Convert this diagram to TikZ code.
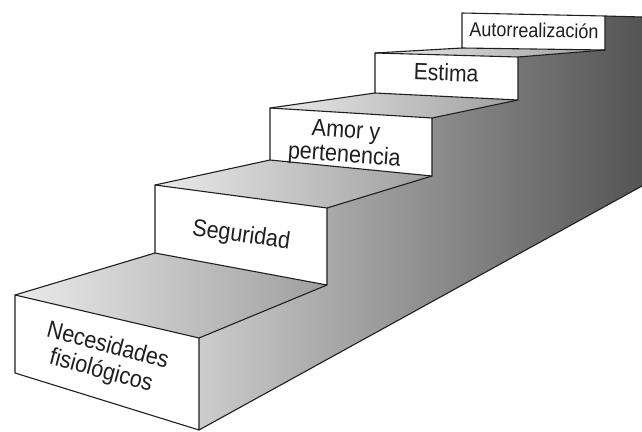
\documentclass[tikz,border=0pt]{standalone}
\usepackage{fontspec}
\setmainfont{Liberation Sans}
\definecolor{sideL}{gray}{0.80}
\definecolor{sideR}{gray}{0.33}
\definecolor{treadL}{gray}{0.92}
\definecolor{treadR}{gray}{0.62}
\definecolor{ink}{gray}{0.12}
\newcommand\condtext[1]{\scalebox{0.9}[1]{\begin{tabular}{@{}c@{}}#1\end{tabular}}}
\begin{document}
\begin{tikzpicture}[x=1pt,y=-1pt,
  edge/.style={line width=1.1pt, line join=round, draw=ink},
  tread/.style={left color=treadL, right color=treadR},
  front/.style={fill=white},
  lab/.style={align=center, inner sep=0pt, text=ink}]
\useasboundingbox (0,0) rectangle (642,431);
% corners
\coordinate (a1) at (15,295);  \coordinate (b1) at (199,338); \coordinate (c1) at (199,430); \coordinate (d1) at (15,373);
\coordinate (a2) at (155,185); \coordinate (b2) at (327,208); \coordinate (c2) at (327,285); \coordinate (d2) at (155,253);
\coordinate (a3) at (270,108); \coordinate (b3) at (432,118); \coordinate (c3) at (432,176); \coordinate (d3) at (270,160);
\coordinate (a4) at (375,53);  \coordinate (b4) at (518,57);  \coordinate (c4) at (518,100); \coordinate (d4) at (375,93);
\coordinate (a5) at (462,13);  \coordinate (b5) at (605,16);  \coordinate (c5) at (605,50);  \coordinate (d5) at (462,48);
\coordinate (r1) at (642,17);  \coordinate (r2) at (642,186);
% side wall
\shade[left color=sideL, right color=sideR] (c1) -- (b1) -- (c2) -- (b2) -- (c3) -- (b3) -- (c4) -- (b4) -- (c5) -- (b5) -- (r1) -- (r2) -- cycle;
% treads
\shade[tread] (a1) -- (b1) -- (c2) -- (d2) -- cycle;
\shade[tread] (a2) -- (b2) -- (c3) -- (d3) -- cycle;
\shade[tread] (a3) -- (b3) -- (c4) -- (d4) -- cycle;
\shade[tread] (a4) -- (b4) -- (c5) -- (d5) -- cycle;
% fronts
\path[front] (a1) -- (b1) -- (c1) -- (d1) -- cycle;
\path[front] (a2) -- (b2) -- (c2) -- (d2) -- cycle;
\path[front] (a3) -- (b3) -- (c3) -- (d3) -- cycle;
\path[front] (a4) -- (b4) -- (c4) -- (d4) -- cycle;
\path[front] (a5) -- (b5) -- (c5) -- (d5) -- cycle;
% edges
\draw[edge] (a1) -- (b1) -- (c1) -- (d1) -- cycle;
\draw[edge] (a2) -- (b2) -- (c2) -- (d2) -- cycle;
\draw[edge] (a3) -- (b3) -- (c3) -- (d3) -- cycle;
\draw[edge] (a4) -- (b4) -- (c4) -- (d4) -- cycle;
\draw[edge] (a5) -- (b5) -- (c5) -- (d5) -- cycle;
\draw[edge] (a1) -- (d2);  \draw[edge] (b1) -- (c2);
\draw[edge] (a2) -- (d3);  \draw[edge] (b2) -- (c3);
\draw[edge] (a3) -- (d4);  \draw[edge] (b3) -- (c4);
\draw[edge] (a4) -- (d5);  \draw[edge] (b4) -- (c5);
\draw[edge] (b5) -- (r1);
\draw[edge] (c1) -- (r2);
% labels
\node[lab, rotate=-15, font=\fontsize{24}{26}\selectfont] (n1) at (104,360) {\condtext{Necesidades\\fisiológicos}};
\node[lab, rotate=-8, font=\fontsize{24}{26}\selectfont] (n2) at (241,237) {\condtext{Seguridad}};
\node[lab, rotate=-4, font=\fontsize{24}{24}\selectfont] (n3) at (345,145) {\condtext{Amor y\\pertenencia}};
\node[lab, rotate=-2, font=\fontsize{23.5}{25}\selectfont] (n4) at (446,76) {\condtext{Estima}};
\node[lab, rotate=-1, font=\fontsize{20}{22}\selectfont] (n5) at (534,33) {\condtext{Autorrealización}};
\end{tikzpicture}
\end{document}
